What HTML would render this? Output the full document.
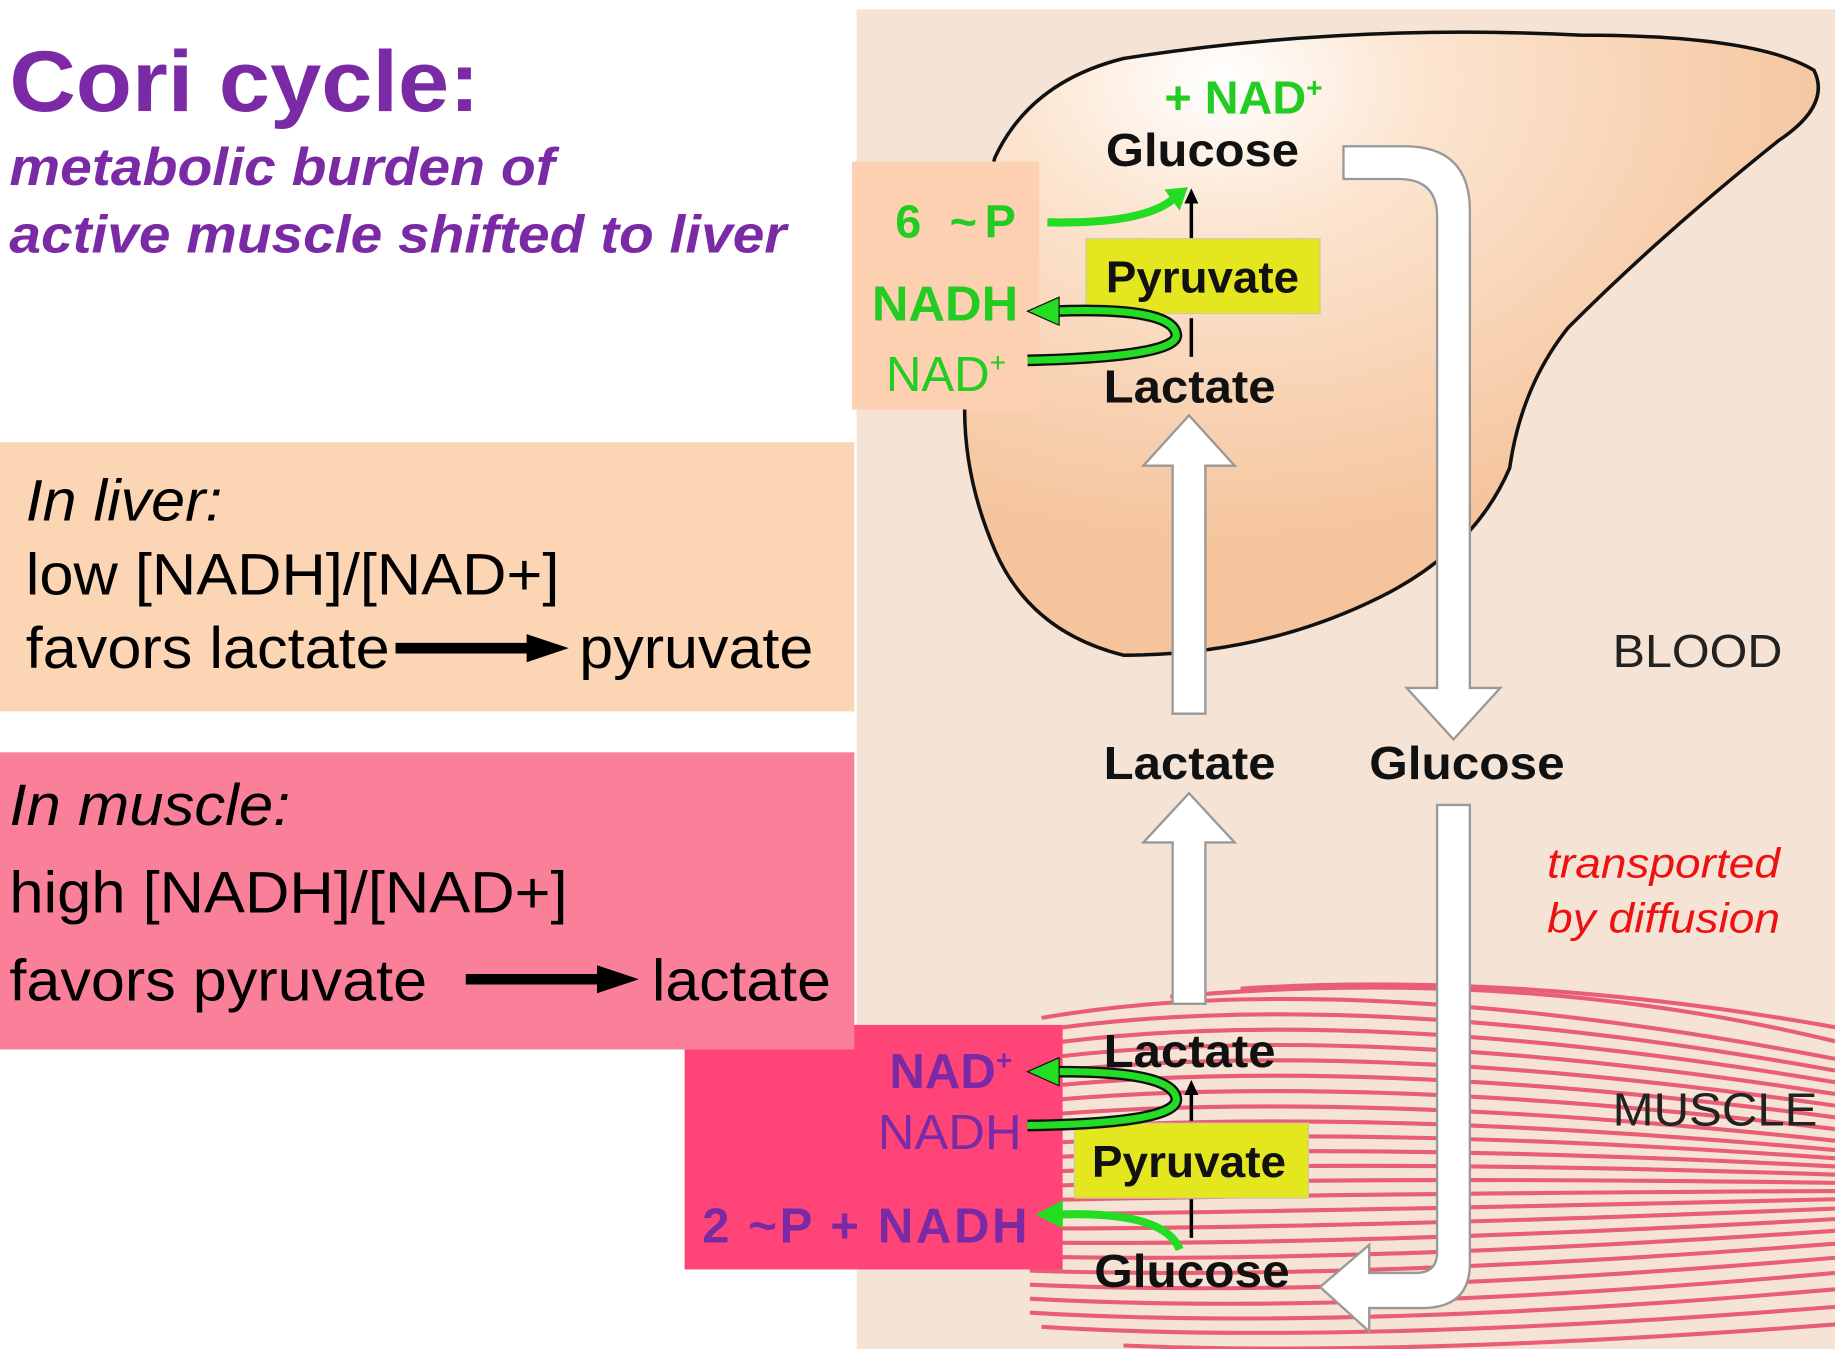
<!DOCTYPE html>
<html><head><meta charset="utf-8"><style>
html,body{margin:0;padding:0;background:#fff;width:1835px;height:1349px;overflow:hidden}
svg{display:block}
text{font-family:"Liberation Sans",sans-serif}
</style></head><body>
<svg width="1835" height="1349" viewBox="0 0 1568 1153" preserveAspectRatio="none" xmlns="http://www.w3.org/2000/svg">
<defs>
<radialGradient id="lg" cx="0.3" cy="0.08" r="0.75">
<stop offset="0" stop-color="#ffffff"/><stop offset="0.3" stop-color="#fce6d2"/><stop offset="1" stop-color="#f5c49c"/>
</radialGradient>
<marker id="ah" markerUnits="userSpaceOnUse" markerWidth="40" markerHeight="32" refX="2" refY="16" orient="auto"><path d="M0,4 L36,16 L0,28 z" fill="#000"/></marker>
<marker id="sh" markerUnits="userSpaceOnUse" markerWidth="14" markerHeight="14" refX="2" refY="7" orient="auto"><path d="M0,1 L13,7 L0,13 z" fill="#000"/></marker>
</defs>
<rect width="1568" height="1153" fill="#fff"/>
<rect x="732" y="8" width="836" height="1145" fill="#f5e4d5"/>
<!-- muscle stripes -->
<g stroke="#e8506a" stroke-width="3.5" fill="none" opacity="0.9">
<path d="M890,870 Q1150,825 1568,905"/><path d="M880,882 Q1150,840 1568,915"/>
<path d="M880,894 Q1150,855 1568,925"/><path d="M880,906 Q1150,870 1568,935"/>
<path d="M880,918 Q1150,885 1568,945"/><path d="M880,930 Q1150,900 1568,955"/>
<path d="M880,942 Q1150,915 1568,965"/><path d="M880,954 Q1150,930 1568,975"/>
<path d="M880,966 Q1150,945 1568,983"/><path d="M880,978 Q1150,960 1568,990"/>
<path d="M880,990 Q1150,975 1568,997"/><path d="M880,1002 Q1150,990 1568,1004"/>
<path d="M880,1014 Q1150,1005 1568,1011"/><path d="M880,1026 Q1150,1020 1568,1018"/>
<path d="M880,1038 Q1150,1035 1568,1025"/><path d="M880,1050 Q1150,1050 1568,1033"/>
<path d="M880,1062 Q1150,1065 1568,1042"/><path d="M880,1074 Q1150,1080 1568,1052"/>
<path d="M880,1086 Q1150,1095 1568,1063"/><path d="M880,1098 Q1150,1110 1568,1075"/>
<path d="M880,1110 Q1150,1125 1568,1088"/><path d="M880,1122 Q1150,1138 1568,1102"/>
<path d="M890,1134 Q1150,1150 1568,1117"/><path d="M960,1150 Q1200,1160 1568,1132"/>
<path d="M1000,852 Q1300,825 1568,890"/><path d="M1060,845 Q1300,830 1568,878"/>
</g>
<!-- liver -->
<path d="M850,135 Q880,70 960,50 Q1150,20 1350,30 Q1500,30 1550,60 Q1565,90 1520,120 Q1420,200 1340,280 Q1300,330 1290,400 Q1260,470 1180,510 Q1080,560 960,560 Q880,540 850,470 Q820,400 825,330 Q830,220 850,135 z" fill="url(#lg)" stroke="#111" stroke-width="3"/>
<rect x="728" y="138" width="160" height="212" fill="#fcd0b0"/>
<rect x="585" y="876" width="323" height="209" fill="#ff4477"/>
<!-- left boxes -->
<rect x="0" y="378" width="730" height="230" fill="#fcd5b5"/>
<rect x="0" y="643" width="730" height="254" fill="#fa8099"/>
<text x="8" y="95" font-size="74" font-weight="bold" fill="#7b2aa6" textLength="402" lengthAdjust="spacingAndGlyphs">Cori cycle:</text>
<text x="8" y="158" font-size="45" font-weight="bold" font-style="italic" fill="#7b2aa6" textLength="466" lengthAdjust="spacingAndGlyphs">metabolic burden of</text>
<text x="8" y="216" font-size="45" font-weight="bold" font-style="italic" fill="#7b2aa6" textLength="664" lengthAdjust="spacingAndGlyphs">active muscle shifted to liver</text>
<text x="22" y="445" font-size="50" font-style="italic" fill="#000" textLength="168" lengthAdjust="spacingAndGlyphs">In liver:</text>
<text x="22" y="508" font-size="50" fill="#000" textLength="456" lengthAdjust="spacingAndGlyphs">low [NADH]/[NAD+]</text>
<text x="22" y="571" font-size="50" fill="#000" textLength="311" lengthAdjust="spacingAndGlyphs">favors lactate</text>
<line x1="338" y1="554" x2="452" y2="554" stroke="#000" stroke-width="9" marker-end="url(#ah)"/>
<text x="495" y="571" font-size="50" fill="#000" textLength="200" lengthAdjust="spacingAndGlyphs">pyruvate</text>
<text x="8" y="705" font-size="50" font-style="italic" fill="#000" textLength="240" lengthAdjust="spacingAndGlyphs">In muscle:</text>
<text x="8" y="780" font-size="50" fill="#000" textLength="477" lengthAdjust="spacingAndGlyphs">high [NADH]/[NAD+]</text>
<text x="8" y="855" font-size="50" fill="#000" textLength="357" lengthAdjust="spacingAndGlyphs">favors pyruvate</text>
<line x1="398" y1="837" x2="512" y2="837" stroke="#000" stroke-width="9" marker-end="url(#ah)"/>
<text x="557" y="855" font-size="50" fill="#000" textLength="153" lengthAdjust="spacingAndGlyphs">lactate</text>
<!-- white transport arrows -->
<g fill="#fff" stroke="#999" stroke-width="2">
<path d="M1002,610 L1002,398 L977,398 L1016,355 L1055,398 L1030,398 L1030,610 z"/>
<path d="M1002,858 L1002,720 L977,720 L1016,678 L1055,720 L1030,720 L1030,858 z"/>
<path d="M1148,125 L1200,125 Q1256,125 1256,180 L1256,588 L1282,588 L1242,632 L1202,588 L1228,588 L1228,185 Q1228,153 1195,153 L1148,153 z"/>
<path d="M1228,688 L1256,688 L1256,1080 Q1256,1118 1215,1118 L1170,1118 L1170,1138 L1128,1100 L1170,1064 L1170,1088 L1210,1088 Q1228,1088 1228,1070 z"/>
</g>
<!-- small black arrows -->
<line x1="1018" y1="205" x2="1018" y2="172" stroke="#000" stroke-width="3" marker-end="url(#sh)"/>
<line x1="1018" y1="305" x2="1018" y2="272" stroke="#000" stroke-width="3"/>
<line x1="1018" y1="958" x2="1018" y2="934" stroke="#000" stroke-width="3" marker-end="url(#sh)"/>
<line x1="1018" y1="1058" x2="1018" y2="1025" stroke="#000" stroke-width="3"/>
<!-- liver labels -->
<text x="995" y="97" font-size="40" font-weight="bold" fill="#22cc22">+ NAD<tspan font-size="24" dy="-14">+</tspan></text>
<text x="945" y="142" font-size="40" font-weight="bold" fill="#111" textLength="165" lengthAdjust="spacingAndGlyphs">Glucose</text>
<rect x="928" y="204" width="200" height="64" fill="#e4e620" stroke="#cccc99"/>
<text x="945" y="250" font-size="38" font-weight="bold" fill="#111" textLength="165" lengthAdjust="spacingAndGlyphs">Pyruvate</text>
<text x="943" y="344" font-size="40" font-weight="bold" fill="#111" textLength="147" lengthAdjust="spacingAndGlyphs">Lactate</text>
<text x="765" y="203" font-size="40" font-weight="bold" fill="#22cc22" textLength="103" lengthAdjust="spacing">6 ~P</text>
<text x="745" y="274" font-size="42" font-weight="bold" fill="#22cc22" textLength="125" lengthAdjust="spacingAndGlyphs">NADH</text>
<text x="757" y="334" font-size="42" fill="#22cc22">NAD<tspan font-size="24" dy="-16">+</tspan></text>
<path d="M895,190 Q980,192 1005,168" fill="none" stroke="#22dd22" stroke-width="7"/>
<path d="M995,162 L1015,160 L1008,180 z" fill="#22dd22"/>
<path d="M878,308 Q1010,305 1005,285 Q1000,262 900,266" fill="none" stroke="#111" stroke-width="10"/>
<path d="M878,308 Q1010,305 1005,285 Q1000,262 900,266" fill="none" stroke="#22dd22" stroke-width="6"/>
<path d="M878,266 L905,254 L905,278 z" fill="#22dd22" stroke="#111" stroke-width="1"/>
<!-- blood labels -->
<text x="943" y="666" font-size="40" font-weight="bold" fill="#111" textLength="147" lengthAdjust="spacingAndGlyphs">Lactate</text>
<text x="1170" y="666" font-size="40" font-weight="bold" fill="#111" textLength="167" lengthAdjust="spacingAndGlyphs">Glucose</text>
<text x="1378" y="570" font-size="40" fill="#222" textLength="145" lengthAdjust="spacingAndGlyphs">BLOOD</text>
<text x="1322" y="750" font-size="36" font-style="italic" fill="#ee1111" textLength="199" lengthAdjust="spacingAndGlyphs">transported</text>
<text x="1322" y="797" font-size="36" font-style="italic" fill="#ee1111" textLength="199" lengthAdjust="spacingAndGlyphs">by diffusion</text>
<text x="1378" y="962" font-size="40" fill="#222" textLength="175" lengthAdjust="spacingAndGlyphs">MUSCLE</text>
<!-- muscle labels -->
<text x="943" y="912" font-size="40" font-weight="bold" fill="#111" textLength="147" lengthAdjust="spacingAndGlyphs">Lactate</text>
<rect x="918" y="960" width="200" height="64" fill="#e4e620" stroke="#cccc99"/>
<text x="933" y="1006" font-size="38" font-weight="bold" fill="#111" textLength="166" lengthAdjust="spacingAndGlyphs">Pyruvate</text>
<text x="935" y="1100" font-size="40" font-weight="bold" fill="#111" textLength="167" lengthAdjust="spacingAndGlyphs">Glucose</text>
<text x="760" y="930" font-size="42" font-weight="bold" fill="#7b2aa6">NAD<tspan font-size="24" dy="-16">+</tspan></text>
<text x="750" y="982" font-size="42" fill="#7b2aa6" textLength="123" lengthAdjust="spacingAndGlyphs">NADH</text>
<text x="600" y="1062" font-size="42" font-weight="bold" fill="#7b2aa6" textLength="278" lengthAdjust="spacing">2 ~P + NADH</text>
<path d="M878,962 Q1010,960 1005,938 Q1000,915 900,916" fill="none" stroke="#111" stroke-width="10"/>
<path d="M878,962 Q1010,960 1005,938 Q1000,915 900,916" fill="none" stroke="#22dd22" stroke-width="6"/>
<path d="M878,916 L905,904 L905,928 z" fill="#22dd22" stroke="#111" stroke-width="1"/>
<path d="M1008,1068 Q995,1035 905,1038" fill="none" stroke="#22dd22" stroke-width="7"/>
<path d="M885,1038 L908,1026 L908,1050 z" fill="#22dd22"/>
</svg>
</body></html>
